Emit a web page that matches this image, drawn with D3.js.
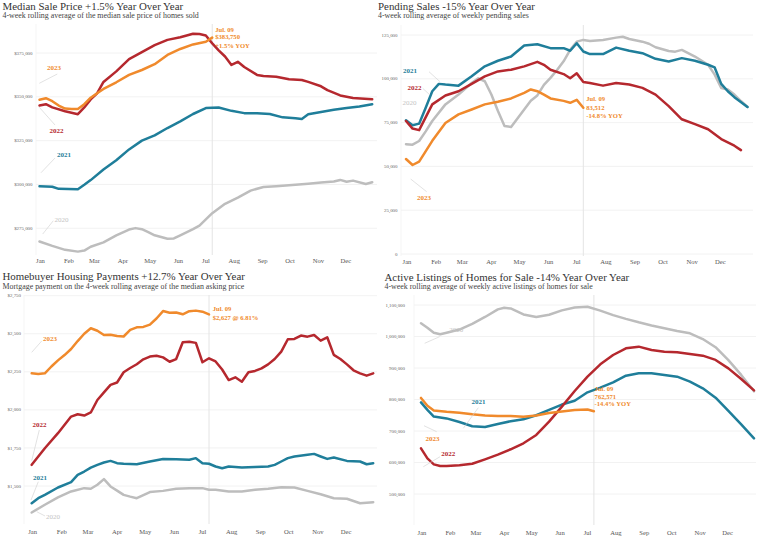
<!DOCTYPE html>
<html><head><meta charset="utf-8">
<script src="https://cdn.jsdelivr.net/npm/d3@7"></script>
<style>
body{margin:0;background:#fff}
svg{display:block}
text{font-family:"Liberation Serif","Times New Roman",serif}
</style>
</head><body>
<svg id="c" width="758" height="543"></svg>
<script>
// ---------------- DATA ----------------
const years = ["2020","2021","2022","2023"];
const monthFmt = "%b";

// Panel 1: Median sale price
const priceWeeks2020 = [0,2,4,6,7,8,10,12,14,15,16,17,18,20,21,22,24,25,27,29,31,33,35,37,40,42,44,46,47,48,49,51,52];
const price2020 = [267500,265000,262700,261700,262300,264500,267000,271000,274300,275100,274500,272800,271000,269000,269200,271000,274500,276500,283600,289000,292500,296500,298600,299000,299800,300400,301100,301700,302600,301600,302200,300300,301300];
const priceWeeks2021 = [0,2,3,6,7,8,10,12,14,16,18,20,22,24,26,28,30,32,34,36,38,40,41,42,44,46,48,50,52];
const price2021 = [299000,298700,297500,297300,299800,302500,308500,313800,320000,325000,328000,332200,336000,340200,343600,343900,342000,340700,340700,340200,338300,337800,337300,340000,341300,342600,343600,344500,345800];
const priceWeeks2022 = [0,1,2,4,6,7,8,9,10,12,14,16,18,20,22,24,25,26,27,28,29,30,31,32,34,35,37,39,41,42,44,45,47,49,52];
const price2022 = [345000,345800,344000,341800,340100,344000,348500,352000,358500,364500,371500,375500,379500,382500,384000,386000,385800,385000,380500,376500,373000,368200,370000,367000,362500,361900,361500,360000,359600,358500,356000,353800,350800,349300,348600];
const priceWeeks2023 = [0,1,2,3,4,5,6,7,8,9,10,12,14,16,18,20,22,24,26,27];
const price2023 = [348300,349200,347500,345000,343300,343000,343000,345800,349500,352000,354500,358300,362500,365300,368600,373900,377300,379900,381400,383750];
const priceTicks = [275000,300000,325000,350000,375000];

// Panel 2: Pending sales
const pendWeeks2020 = [0,1,2,3,4,6,8,10,11,12,13,14,15,16,17,18,19,20,21,22,23,24,25,26,27,28,30,32,33,34,36,37,38,40,41,42,44,46,47,48,49,50,51,52];
const pend2020 = [62700,62400,64500,70000,75900,85400,91000,97600,100300,98600,91000,81600,73000,72500,77500,82500,87500,90500,96500,100500,105000,110000,116500,121200,122200,121600,122200,123500,124000,122700,121200,120000,118000,115900,115500,116500,112700,108000,102400,94800,93900,91000,87300,83900];
const pendWeeks2021 = [0,1,2,3,4,5,6,8,10,12,14,16,18,20,22,24,25,26,27,28,30,32,34,36,38,40,42,44,46,47,48,49,50,52];
const pend2021 = [76300,73500,74400,83500,92900,97100,96700,96100,101400,107100,110300,112700,119000,119700,117500,117500,116000,120300,115600,114100,114100,117800,116000,114600,111400,109900,111800,110300,108000,106500,97100,92900,89500,83900];
const pendWeeks2022 = [0,1,2,4,6,8,10,12,14,16,18,20,21,22,24,25,26,27,28,30,32,34,36,38,40,42,44,46,48,50,51];
const pend2022 = [75900,71600,70700,85400,90500,92900,97100,101400,104200,105200,107100,109700,108000,105200,102700,100300,103100,98200,97600,96100,97600,96700,94800,91000,84400,76900,74100,71200,65600,61800,59300];
const pendWeeks2023 = [0,1,2,4,6,8,10,12,14,16,18,19,20,21,22,24,25,26,27];
const pend2023 = [54200,50800,52700,64600,74800,79700,82500,85400,86900,88800,92000,93900,92900,91000,88800,87400,86300,88000,83512];
const pendTicks = [0,25000,50000,75000,100000,125000];

// Panel 3: Homebuyer housing payments
const payWeeks2020 = [0,2,4,6,8,9,10,11,12,13,14,15,16,17,18,20,22,24,26,27,28,30,32,34,36,38,40,42,44,46,48,50,52];
const pay2020 = [1326,1377,1425,1464,1486,1482,1508,1545,1497,1470,1442,1430,1420,1440,1460,1468,1482,1486,1486,1475,1475,1464,1464,1475,1482,1492,1490,1468,1446,1420,1416,1387,1394];
const payWeeks2021 = [0,1,2,4,6,7,8,9,10,11,12,13,14,16,18,20,22,24,25,26,27,28,29,30,32,34,36,37,38,39,40,42,43,44,45,46,48,50,51,52];
const pay2021 = [1387,1420,1442,1490,1525,1573,1595,1621,1639,1654,1665,1650,1646,1643,1661,1678,1675,1672,1683,1650,1646,1628,1617,1628,1621,1624,1628,1639,1661,1683,1694,1705,1711,1694,1678,1687,1665,1661,1643,1650];
const payWeeks2022 = [0,2,4,6,7,8,9,10,11,12,13,14,15,16,17,18,19,20,21,22,23,24,25,26,27,28,29,30,31,32,33,34,35,36,37,38,39,40,41,42,43,44,45,46,47,48,49,50,51,52];
const pay2022 = [1639,1748,1847,1956,1971,1963,1983,2065,2115,2164,2180,2247,2275,2300,2332,2350,2356,2345,2316,2334,2444,2448,2440,2313,2339,2318,2265,2196,2214,2185,2247,2256,2273,2299,2334,2383,2464,2466,2488,2481,2492,2455,2477,2361,2334,2299,2260,2240,2225,2240];
const payWeeks2023 = [0,1,2,3,4,5,6,7,8,9,10,11,12,13,14,15,16,17,18,19,20,21,22,23,24,25,26,27];
const pay2023 = [2240,2236,2240,2285,2325,2360,2400,2452,2500,2536,2520,2492,2494,2485,2482,2525,2542,2545,2560,2600,2649,2638,2640,2628,2648,2652,2645,2627];
const payTicks = [1500,1750,2000,2250,2500,2750];

// Panel 4: Active listings
const listWeeks2020 = [0,1,2,3,4,6,8,10,12,13,14,16,18,20,22,24,26,28,30,32,34,36,38,40,42,44,46,48,50,52];
const list2020 = [1042000,1028000,1012000,1007000,1012000,1022000,1040000,1062000,1086000,1091000,1089000,1070000,1062000,1069000,1083000,1092000,1094500,1082000,1068000,1056000,1045000,1035000,1026000,1017500,1010000,992000,966000,925000,878000,826000];
const listWeeks2021 = [0,1,2,4,6,8,10,12,14,16,18,20,22,24,26,28,30,32,34,36,38,40,42,44,46,48,50,52];
const list2021 = [791000,767000,746000,740000,728500,715000,712500,722500,731000,737000,750000,767000,784000,796000,822800,837600,854600,875700,883100,883100,877800,872500,856600,835500,805900,763600,721200,676800];
const listWeeks2022 = [0,1,2,3,4,6,8,10,12,14,16,18,20,22,24,26,28,30,32,34,36,38,40,42,44,46,48,50,52];
const list2022 = [645000,613000,594000,589000,589000,591000,596000,610000,625000,642000,661000,687400,729700,777300,827000,872500,911700,941300,962500,967800,957200,951900,949800,944500,939200,925600,898900,865100,829000];
const listWeeks2023 = [0,1,2,4,6,8,10,12,14,16,18,20,22,24,26,27];
const list2023 = [805000,780000,765000,761000,758000,753000,749500,747500,748000,745000,749000,757000,762000,767000,768000,762571];
const listTicks = [500000,600000,700000,800000,900000,1000000,1100000];

// ---------------- STYLE ----------------
const colors = {"2020":"#bdbdbd","2021":"#1f7e9a","2022":"#b5282e","2023":"#f08a2c"};
const labelColors = {"2020":"#c4c4c4","2021":"#1f7e9a","2022":"#b5282e","2023":"#f08a2c"};

const svg = d3.select("#c");
const weekDate = w => d3.timeDay.offset(new Date(2023,0,1), 7*w);

function panel(cfg){
  const g = svg.append("g");
  const x = d3.scaleTime().domain([new Date(2023,0,1), new Date(2023,11,31)]).range([cfg.x0, cfg.x1]);
  const y = d3.scaleLinear().domain([cfg.ticks[0], cfg.ticks[cfg.ticks.length-1]]).range(cfg.yRange);

  // titles
  g.append("text").attr("x",cfg.tx).attr("y",cfg.ty).attr("font-size",10.9).attr("fill","#333").text(cfg.title);
  g.append("text").attr("x",cfg.tx).attr("y",cfg.ty+8.6).attr("font-size",7.9).attr("fill","#444").text(cfg.subtitle);

  // gridlines + tick labels
  g.selectAll(".grid").data(cfg.ticks).join("line")
    .attr("x1",cfg.gx0).attr("x2",cfg.gx1)
    .attr("y1",d=>y(d)).attr("y2",d=>y(d))
    .attr("stroke","#efefef").attr("stroke-width",0.8);
  g.selectAll(".tl").data(cfg.ticks).join("text")
    .attr("x",cfg.labX).attr("y",d=>y(d)+1.6).attr("text-anchor","end")
    .attr("font-size",4.9).attr("fill","#666").text(cfg.fmt);
  // left faint border
  g.append("line").attr("x1",cfg.gx0).attr("x2",cfg.gx0).attr("y1",cfg.top).attr("y2",cfg.bottom)
    .attr("stroke","#f2f2f2").attr("stroke-width",0.8);

  // month labels
  const months = d3.timeMonth.range(new Date(2023,0,1), new Date(2023,11,31));
  g.selectAll(".ml").data(months).join("text")
    .attr("x",d=>x(d)+1).attr("y",cfg.monthY).attr("text-anchor","middle")
    .attr("font-size",6.6).attr("fill","#555").text(d3.timeFormat(monthFmt));

  // Jul 09 reference line
  const refDate = weekDate(27);
  g.append("line").attr("x1",x(refDate)).attr("x2",x(refDate)).attr("y1",cfg.top).attr("y2",cfg.bottom)
    .attr("stroke","#e4e4e4").attr("stroke-width",1);

  const line = d3.line().x(d=>x(weekDate(d[0]))).y(d=>y(d[1])).curve(d3.curveLinear);
  cfg.series.forEach(s=>{
    const pts = s.weeks.map((w,i)=>[w, s.values[i]]);
    g.append("path").datum(pts).attr("d",line).attr("fill","none")
      .attr("stroke",colors[s.year]).attr("stroke-width",2.5)
      .attr("stroke-linejoin","round").attr("stroke-linecap","round");
  });

  // year labels with leaders
  cfg.series.forEach(s=>{
    const L = cfg.labels[s.year];
    const px = x(weekDate(s.weeks[0])), py = y(s.values[0]);
    if(L.leader){
      g.append("line").attr("x1",px+L.leader[0]).attr("y1",py+L.leader[1])
        .attr("x2",px+L.leader[2]).attr("y2",py+L.leader[3])
        .attr("stroke","#cfcfcf").attr("stroke-width",0.6);
    }
    g.append("text").attr("x",px+L.dx).attr("y",py+L.dy+2.4).attr("text-anchor","middle")
      .attr("font-size",7).attr("font-weight", s.year==="2020" ? "normal" : "bold")
      .attr("fill",labelColors[s.year]).text(s.year);
  });

  // annotation at last 2023 point
  const s23 = cfg.series.find(s=>s.year==="2023");
  const n = s23.weeks.length-1;
  const ax = x(weekDate(s23.weeks[n])), ay = y(s23.values[n]);
  cfg.note.lines.forEach((t,i)=>{
    g.append("text").attr("x",ax+cfg.note.dx).attr("y",ay+cfg.note.dy[i])
      .attr("font-size",6.6).attr("font-weight","bold").attr("fill","#f08a2c").text(t);
  });
}

const fmtDollar = d3.format("$,");
const fmtNum = d3.format(",");

panel({
  title:"Median Sale Price +1.5% Year Over Year",
  subtitle:"4-week rolling average of the median sale price of homes sold",
  tx:2.5, ty:9.6,
  x0:39.5, x1:372.2, ticks:priceTicks, yRange:[228.3,53.0],
  gx0:36, gx1:377, labX:32.5, top:24, bottom:255, monthY:263.2, fmt:fmtDollar,
  series:[
    {year:"2020",weeks:priceWeeks2020,values:price2020},
    {year:"2021",weeks:priceWeeks2021,values:price2021},
    {year:"2022",weeks:priceWeeks2022,values:price2022},
    {year:"2023",weeks:priceWeeks2023,values:price2023}],
  labels:{
    "2023":{dx:14.5,dy:-31.8,leader:[-0.2,-16.5,17.8,-25.8]},
    "2022":{dx:17,dy:25.1,leader:[-0.2,1.7,15.5,19.4]},
    "2021":{dx:24.5,dy:-31.2,leader:[1.5,-13.5,15.5,-28.2]},
    "2020":{dx:22,dy:-21.4,leader:[3.2,-7.4,13.8,-20.7]}},
  note:{lines:["Jul. 09","$383,750","+1.5% YOY"],dx:3,dy:[-5.5,1.8,10.2]}
});

panel({
  title:"Pending Sales -15% Year Over Year",
  subtitle:"4-week rolling average of weekly pending sales",
  tx:378, ty:9.6,
  x0:406, x1:747.5, ticks:pendTicks, yRange:[254,35],
  gx0:401, gx1:753, labX:397.5, top:25, bottom:256, monthY:264, fmt:d=>fmtNum(d),
  series:[
    {year:"2020",weeks:pendWeeks2020,values:pend2020},
    {year:"2021",weeks:pendWeeks2021,values:pend2021},
    {year:"2022",weeks:pendWeeks2022,values:pend2022},
    {year:"2023",weeks:pendWeeks2023,values:pend2023}],
  labels:{
    "2021":{dx:4,dy:-49.6,leader:[23,-48.6,34,-38.6]},
    "2022":{dx:8.5,dy:-33.7,leader:[16.7,-32.7,24,-26]},
    "2020":{dx:3.5,dy:-41.5,leader:null},
    "2023":{dx:18,dy:38.7,leader:[4.7,20,20.7,32.7]}},
  note:{lines:["Jul. 09","83,512","-14.8% YOY"],dx:3,dy:[-6.2,2.2,10.5]}
});

panel({
  title:"Homebuyer Housing Payments +12.7% Year Over Year",
  subtitle:"Mortgage payment on the 4-week rolling average of the median asking price",
  tx:2.5, ty:280.2,
  x0:31.7, x1:373.2, ticks:payTicks, yRange:[486,295.7],
  gx0:24, gx1:377, labX:21, top:295, bottom:524, monthY:534, fmt:fmtDollar,
  series:[
    {year:"2020",weeks:payWeeks2020,values:pay2020},
    {year:"2021",weeks:payWeeks2021,values:pay2021},
    {year:"2022",weeks:payWeeks2022,values:pay2022},
    {year:"2023",weeks:payWeeks2023,values:pay2023}],
  labels:{
    "2023":{dx:18.3,dy:-35,leader:[0,-21,10,-32.3]},
    "2022":{dx:7.8,dy:-39.8,leader:[0,-4.1,7.6,-34.8]},
    "2021":{dx:8.3,dy:-25.9,leader:[-0.7,-3.2,6.6,-21.5]},
    "2020":{dx:21.3,dy:4.2,leader:[5,-0.8,13.3,3.5]}},
  note:{lines:["Jul. 09","$2,627 @ 6.81%"],dx:3.7,dy:[-3.2,5.1]}
});

panel({
  title:"Active Listings of Homes for Sale -14% Year Over Year",
  subtitle:"4-week rolling average of weekly active listings of homes for sale",
  tx:384.5, ty:280.8,
  x0:421, x1:754, ticks:listTicks, yRange:[494,305],
  gx0:414, gx1:756, labX:405, top:295, bottom:525, monthY:534.5, fmt:d=>fmtNum(d),
  series:[
    {year:"2020",weeks:listWeeks2020,values:list2020},
    {year:"2021",weeks:listWeeks2021,values:list2021},
    {year:"2022",weeks:listWeeks2022,values:list2022},
    {year:"2023",weeks:listWeeks2023,values:list2023}],
  labels:{
    "2020":{dx:35.3,dy:6.7,leader:[3.7,20,18.7,13.4]},
    "2021":{dx:57.5,dy:-1,leader:[42.3,26,57.3,5.4]},
    "2023":{dx:11.5,dy:41.1,leader:[3,27.8,15.7,33.8]},
    "2022":{dx:27.3,dy:5.7,leader:[2.3,18.4,19,8.4]}},
  note:{lines:["Jul. 09","762,571","-14.4% YOY"],dx:0.7,dy:[-20.1,-12.4,-5.1]}
});
</script>
</body></html>
